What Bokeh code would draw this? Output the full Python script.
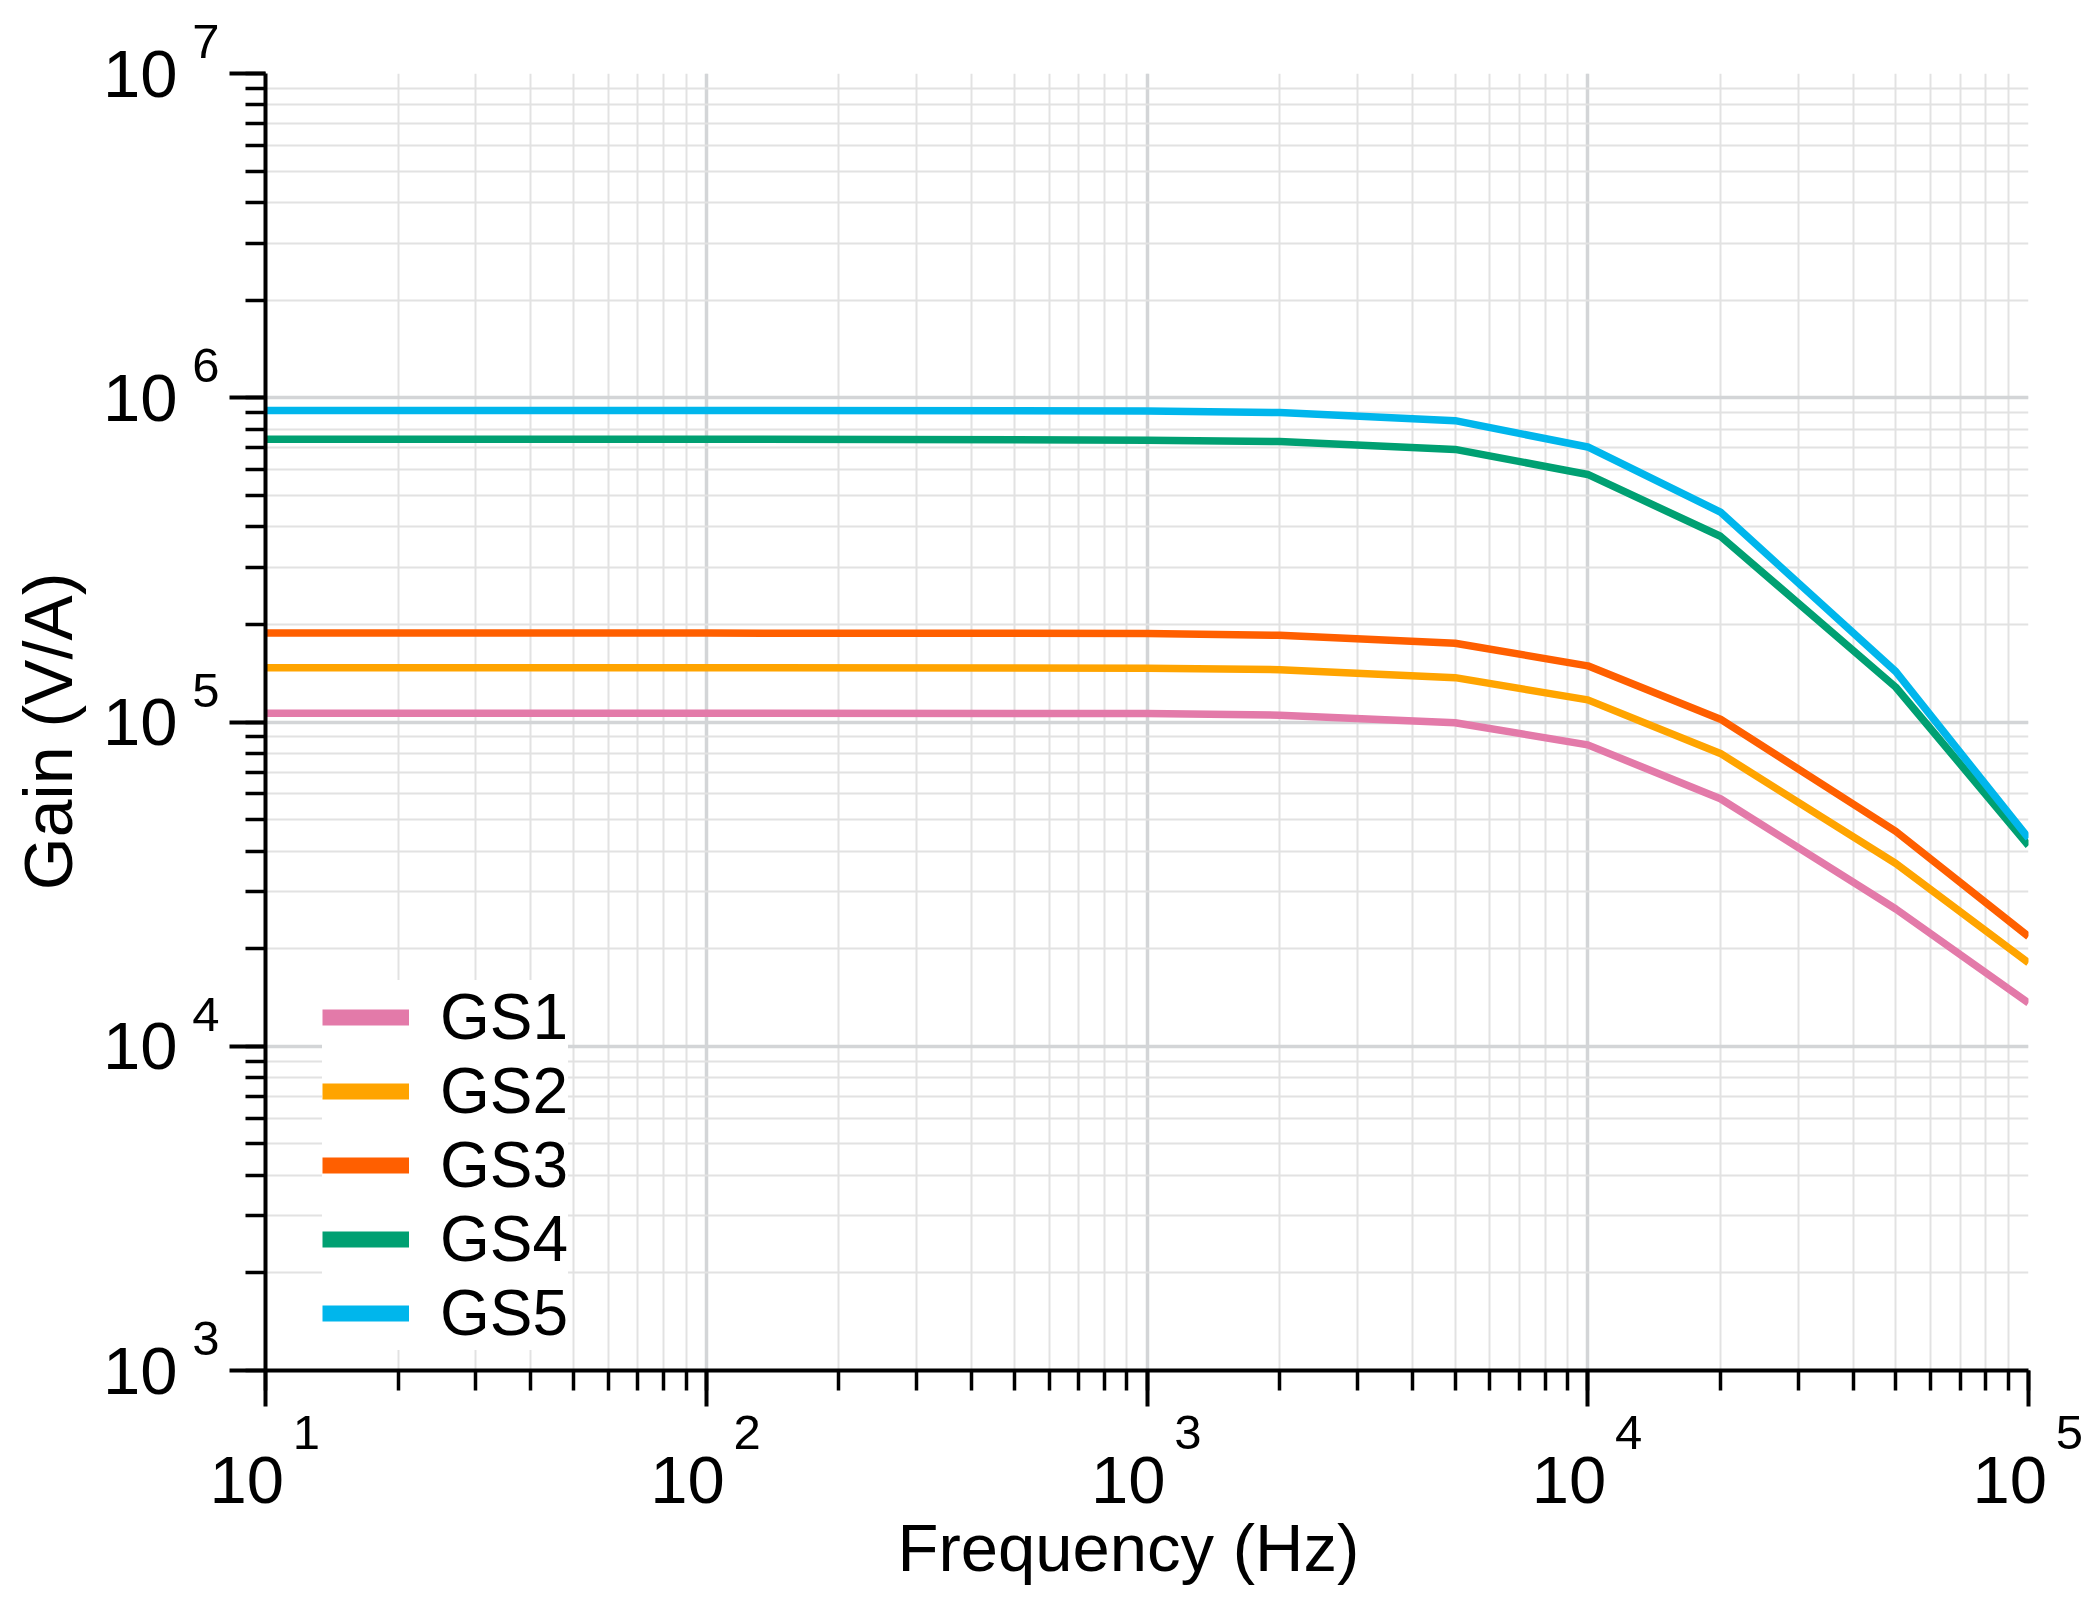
from bokeh.plotting import figure
from bokeh.models import Range1d, Legend, LegendItem, LogAxis, FixedTicker
from bokeh.embed import file_html
from bokeh.resources import INLINE

# ---- data ----
freq = [10, 100, 1000, 2000, 5000, 10000, 20000, 50000, 100000]
gs1 = [1.064e5, 1.064e5, 1.062e5, 1.05e5, 9.95e4, 8.5e4, 5.8e4, 2.65e4, 1.36e4]
gs2 = [1.47e5, 1.47e5, 1.466e5, 1.45e5, 1.37e5, 1.17e5, 8.0e4, 3.66e4, 1.81e4]
gs3 = [1.88e5, 1.88e5, 1.875e5, 1.85e5, 1.75e5, 1.49e5, 1.02e5, 4.6e4, 2.18e4]
gs4 = [7.45e5, 7.45e5, 7.4e5, 7.33e5, 6.93e5, 5.8e5, 3.74e5, 1.28e5, 4.16e4]
gs5 = [9.14e5, 9.14e5, 9.1e5, 9.0e5, 8.5e5, 7.05e5, 4.44e5, 1.43e5, 4.38e4]
series_names = ["GS1", "GS2", "GS3", "GS4", "GS5"]
series_values = [gs1, gs2, gs3, gs4, gs5]
colors = ["#e37aa9", "#ffa400", "#ff5f00", "#00a072", "#00b6ec"]

x_ticks = [10.0, 100.0, 1000.0, 10000.0, 100000.0]
x_exps = ["1", "2", "3", "4", "5"]
y_ticks = [1e3, 1e4, 1e5, 1e6, 1e7]
y_exps = ["3", "4", "5", "6", "7"]
tick_base = "10"
x_title = "Frequency (Hz)"
y_title = "Gain (V/A)"

FONT = "Liberation Sans"
NB = "\u00a0"

p = figure(width=2099, height=1600, x_axis_type="log", y_axis_type="log",
           x_range=Range1d(10, 1e5), y_range=Range1d(1e3, 1e7),
           output_backend="svg", toolbar_location=None,
           min_border_left=265, min_border_right=71,
           min_border_top=73, min_border_bottom=230)
p.outline_line_color = None
p.background_fill_color = "white"
p.border_fill_color = "white"

for g in (p.xgrid, p.ygrid):
    g.grid_line_color = "#d3d5d7"
    g.grid_line_width = 3.5
    g.minor_grid_line_color = "#e2e2e2"
    g.minor_grid_line_width = 2

# primary axes: line, ticks and the superscript exponents
for ax in (p.xaxis, p.yaxis):
    ax.axis_line_color = "black"
    ax.axis_line_width = 4
    ax.major_tick_line_color = "black"
    ax.major_tick_line_width = 4
    ax.minor_tick_line_color = "black"
    ax.minor_tick_line_width = 3.5
    ax.major_tick_in = 0
    ax.major_tick_out = 36
    ax.minor_tick_in = 0
    ax.minor_tick_out = 20
    ax.major_label_text_font = FONT
    ax.major_label_text_font_size = "49px"
    ax.major_label_text_color = "black"

p.xaxis.major_label_overrides = {t: NB * 6 + e for t, e in zip(x_ticks, x_exps)}
p.xaxis.major_label_standoff = -2
p.yaxis.major_label_overrides = {t: e + "\n" + NB for t, e in zip(y_ticks, y_exps)}
p.yaxis.major_label_standoff = 10


def base_axis(ticks, overrides, standoff, title, title_standoff, title_size):
    ax = LogAxis(ticker=FixedTicker(ticks=ticks))
    ax.axis_line_color = None
    ax.major_tick_line_color = None
    ax.minor_tick_line_color = None
    ax.major_tick_out = 0
    ax.major_tick_in = 0
    ax.minor_tick_out = 0
    ax.minor_tick_in = 0
    ax.major_label_overrides = overrides
    ax.major_label_standoff = standoff
    ax.major_label_text_font = FONT
    ax.major_label_text_font_size = "67px"
    ax.major_label_text_color = "black"
    ax.axis_label = title
    ax.axis_label_standoff = title_standoff
    ax.axis_label_text_font = FONT
    ax.axis_label_text_font_size = title_size
    ax.axis_label_text_font_style = "normal"
    ax.axis_label_text_color = "black"
    return ax


xb = base_axis(x_ticks, {t: tick_base + NB * 2 for t in x_ticks}, -20,
               x_title + NB * 2, -10, "67px")
yb = base_axis(y_ticks, {t: tick_base for t in y_ticks}, 12,
               y_title + NB, 14, "68px")
p.add_layout(xb, "below")
p.add_layout(yb, "left")

for name, vals, col in zip(series_names, series_values, colors):
    p.line(freq, vals, line_color=col, line_width=7.5)

# legend swatches (thicker than the plot lines); single-vertex lines draw nothing
items = []
for name, vals, col in zip(series_names, series_values, colors):
    r = p.line(x=freq[:1], y=vals[:1], line_color=col, line_width=16)
    items.append(LegendItem(label=name, renderers=[r]))
legend = Legend(items=items, location=(57, 20), border_line_color=None,
                background_fill_color="white", background_fill_alpha=1.0,
                padding=30, spacing=0, glyph_width=87, glyph_height=60,
                label_height=60, label_standoff=31,
                label_text_font=FONT, label_text_font_size="64px",
                label_text_baseline="middle", label_text_color="black")
p.add_layout(legend)

open("out.html", "w").write(file_html(p, INLINE))
